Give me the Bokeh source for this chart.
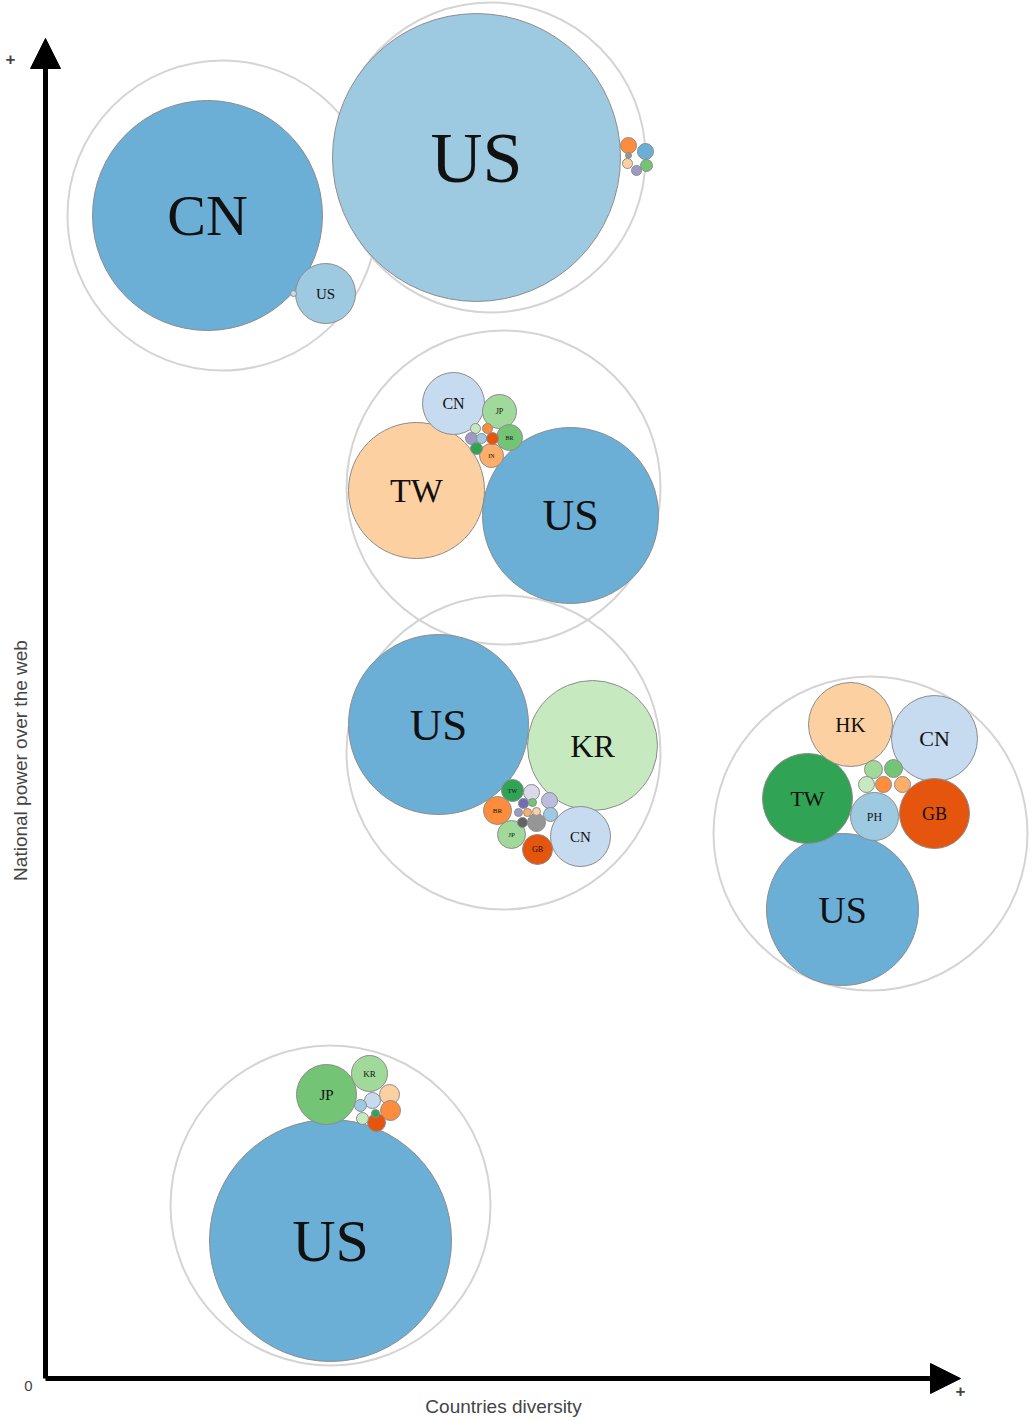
import math
from bokeh.plotting import figure
from bokeh.models import ColumnDataSource, Range1d, Arrow, NormalHead, Label
from bokeh.core.properties import value
from bokeh.embed import file_html
from bokeh.resources import INLINE

# Outer (group) circles: x = countries diversity, y = national power over the web
group_x = [177, 445, 458, 458, 825, 285]
group_y = [1163, 1221, 891, 626, 545, 173]
group_r = [155, 155, 157, 157, 157, 160]

# Country bubbles inside each group
bubble_x = [162, 280, 248,
            431, 583, 600, 601, 591, 582, 583,
            371, 525, 408, 454, 464, 446, 430, 442, 426, 436, 447, 431,
            393, 547, 535, 492, 466, 452, 467, 486, 504, 491, 505, 478, 487, 482, 491, 473, 477,
            797, 762, 805, 889, 889, 829, 828, 848, 821, 838, 857,
            285, 281, 324, 344, 345, 331, 327, 315, 317, 330]
bubble_y = [1163, 1085, 1085,
            1221, 1233, 1227, 1213, 1208, 1215, 1223,
            888, 863, 975, 967, 941, 923, 950, 950, 940, 940, 940, 930,
            654, 633, 542, 529, 544, 568, 588, 586, 578, 556, 564, 575, 576, 566, 567, 566, 556,
            469, 580, 654, 640, 565, 562, 609, 610, 594, 594, 594,
            138, 284, 305, 284, 268, 256, 278, 273, 260, 265]
bubble_r = [115, 30, 3,
            144, 8, 8, 6, 5, 5, 3,
            68, 88, 31, 17, 13, 12, 5, 5, 6, 5, 6, 6,
            90, 65, 30, 15, 14, 14, 11, 8, 8, 9, 7, 5, 4, 4, 4, 4, 5,
            76, 45, 42, 43, 35, 24, 9, 9, 8, 8, 8,
            121, 30, 18, 10, 10, 9, 8, 6, 6, 4]
bubble_label = ["CN", "US", "",
                "US", "", "", "", "", "", "",
                "TW", "US", "CN", "JP", "BR", "IN", "", "", "", "", "", "",
                "US", "KR", "CN", "GB", "JP", "BR", "TW", "", "", "", "", "", "", "", "", "", "",
                "US", "TW", "HK", "CN", "GB", "PH", "", "", "", "", "",
                "US", "JP", "KR", "", "", "", "", "", "", ""]
bubble_color = ["#6baed6", "#9ecae1", "#c6dbef",
                "#9ecae1", "#fd8d3c", "#6baed6", "#74c476", "#9e9ac8", "#fdd0a2", "#969696",
                "#fdd0a2", "#6baed6", "#c6dbef", "#a1d99b", "#74c476", "#fdae6b", "#c7e9c0",
                "#fd8d3c", "#9e9ac8", "#9ecae1", "#e6550d", "#31a354",
                "#6baed6", "#c7e9c0", "#c6dbef", "#e6550d", "#a1d99b", "#fd8d3c", "#31a354",
                "#dadaeb", "#bcbddc", "#969696", "#9ecae1", "#756bb1", "#74c476", "#fdae6b",
                "#fdd0a2", "#9e9ac8", "#636363",
                "#6baed6", "#31a354", "#fdd0a2", "#c6dbef", "#e6550d", "#9ecae1", "#a1d99b",
                "#74c476", "#c7e9c0", "#fd8d3c", "#fdae6b",
                "#6baed6", "#74c476", "#a1d99b", "#fdd0a2", "#fd8d3c", "#e6550d", "#c6dbef",
                "#9ecae1", "#c7e9c0", "#31a354"]

p = figure(width=1032, height=1420, output_backend="svg", toolbar_location=None,
           x_range=Range1d(-45, 987), y_range=Range1d(-42, 1378),
           x_axis_location=None, y_axis_location=None, min_border=0)
p.grid.visible = False
p.outline_line_color = None
p.background_fill_color = "white"

gsrc = ColumnDataSource(dict(x=group_x, y=group_y, r=group_r))
p.circle(x="x", y="y", radius="r", source=gsrc, fill_color=None,
         line_color="#d4d4d4", line_width=2)

bsrc = ColumnDataSource(dict(x=bubble_x, y=bubble_y, r=bubble_r, color=bubble_color))
p.circle(x="x", y="y", radius="r", source=bsrc, fill_color="color",
         line_color="#8c8c8c", line_width=1)

lx, ly, lt, lf = [], [], [], []
for x, y, r, t in zip(bubble_x, bubble_y, bubble_r, bubble_label):
    if t:
        lx.append(x)
        ly.append(y)
        lt.append(t)
        lf.append("%dpx" % round(max(r * 0.5, 6)))
lsrc = ColumnDataSource(dict(x=lx, y=ly, text=lt, size=lf))
p.text(x="x", y="y", text="text", source=lsrc, text_font=value("Liberation Serif"),
       text_font_size="size", text_align="center", text_baseline="middle",
       text_color="#111111")

# axes as arrows
p.add_layout(Arrow(x_start=0, y_start=0, x_end=0, y_end=1340, line_width=5,
                   line_color="black",
                   end=NormalHead(size=30, fill_color="black", line_color="black")))
p.add_layout(Arrow(x_start=0, y_start=0, x_end=915, y_end=0, line_width=5,
                   line_color="black",
                   end=NormalHead(size=30, fill_color="black", line_color="black")))

font = "Liberation Sans"
p.add_layout(Label(x=-35, y=1320, text="+", text_font=font, text_font_size="17px",
                   text_font_style="bold", text_align="center", text_baseline="middle"))
p.add_layout(Label(x=-17, y=-7, text="0", text_font=font, text_font_size="15px",
                   text_align="center", text_baseline="middle"))
p.add_layout(Label(x=915, y=-12, text="+", text_font=font, text_font_size="17px",
                   text_font_style="bold", text_align="center", text_baseline="middle"))
p.add_layout(Label(x=458, y=-28, text="Countries diversity", text_font=font,
                   text_font_size="19px", text_align="center", text_baseline="middle"))
p.add_layout(Label(x=-25, y=618, text="National power over the web", text_font=font,
                   text_font_size="19px", text_align="center", text_baseline="middle",
                   angle=math.pi / 2))

open("out.html", "w").write(file_html(p, INLINE))
